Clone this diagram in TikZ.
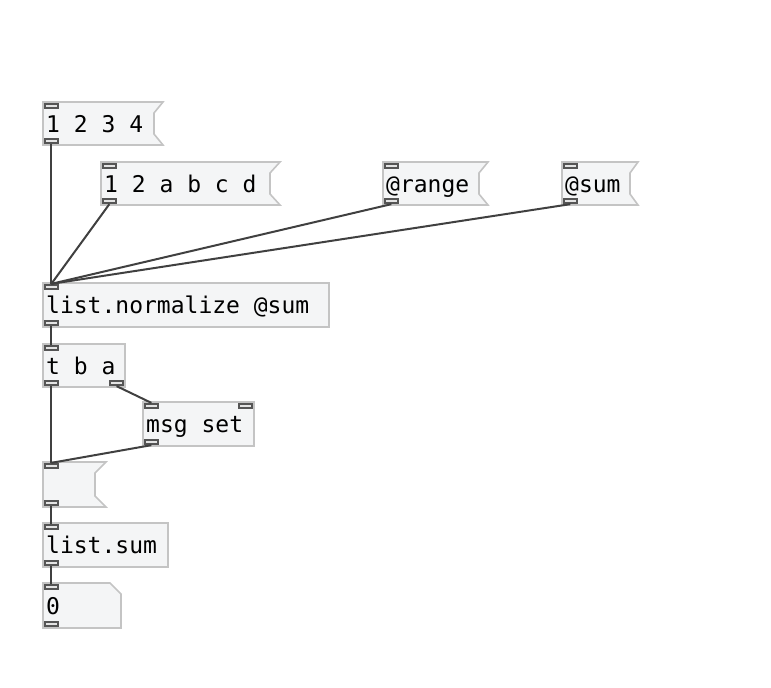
\documentclass[tikz,border=0pt]{standalone}
\usepackage{fontspec}
\newfontfamily\pdfont{DejaVu Sans Mono}
\definecolor{boxfill}{HTML}{F4F5F6}
\definecolor{boxline}{HTML}{C4C4C4}
\definecolor{portline}{HTML}{555555}
\definecolor{portfill}{HTML}{E4E4E4}
\definecolor{wire}{HTML}{404040}
\tikzset{
  boxshape/.style={draw=boxline, fill=boxfill, line width=1.6pt},
  port/.style={draw=portline, fill=portfill, line width=1.7pt, rectangle, inner sep=0pt, minimum width=13.3pt, minimum height=4.3pt},
  lbl/.style={font=\pdfont\fontsize{23}{25}\selectfont, inner sep=0pt, anchor=base west, text=black},
  conn/.style={draw=wire, line width=2pt},
}
\newcommand{\flagbox}[5]{% left top right bottom notch
  \path[boxshape] (#1,#2) -- (#3,#2) -- (#5,#2+11) -- (#5,#4-11) -- (#3,#4) -- (#1,#4) -- cycle;}
\begin{document}
\begin{tikzpicture}[x=1pt,y=-1pt]
\useasboundingbox (0,0) rectangle (771,688);
% message boxes
\flagbox{43}{102}{163}{145}{154}
\flagbox{101}{162}{280}{205}{270}
\flagbox{383}{162}{488}{205}{479}
\flagbox{562}{162}{638}{205}{630}
\flagbox{43}{462}{106}{507}{95}
% object boxes
\path[boxshape] (43,283) rectangle (329,327);
\path[boxshape] (43,344) rectangle (125,387);
\path[boxshape] (143,402) rectangle (254,446);
\path[boxshape] (43,523) rectangle (168,567);
% number box
\path[boxshape] (43,583) -- (110,583) -- (121,594) -- (121,628) -- (43,628) -- cycle;
% labels
\node[lbl] (t1) at (46,132) {1 2 3 4};
\node[lbl] (t2) at (104,192) {1 2 a b c d};
\node[lbl] (t3) at (386,192) {@range};
\node[lbl] (t4) at (565,192) {@sum};
\node[lbl] (t5) at (46,313) {list.normalize @sum};
\node[lbl] (t6) at (46,374) {t b a};
\node[lbl] (t7) at (146,432) {msg set};
\node[lbl] (t8) at (46,553) {list.sum};
\node[lbl] (t9) at (46,614) {0};
% ports
\node[port, anchor=north west] (m1i) at (43.85,102.85) {};
\node[port, anchor=south west] (m1o) at (43.85,144.15) {};
\node[port, anchor=north west] (m2i) at (101.85,162.85) {};
\node[port, anchor=south west] (m2o) at (101.85,204.15) {};
\node[port, anchor=north west] (m3i) at (383.85,162.85) {};
\node[port, anchor=south west] (m3o) at (383.85,204.15) {};
\node[port, anchor=north west] (m4i) at (562.85,162.85) {};
\node[port, anchor=south west] (m4o) at (562.85,204.15) {};
\node[port, anchor=north west] (o1i) at (43.85,283.85) {};
\node[port, anchor=south west] (o1o) at (43.85,326.15) {};
\node[port, anchor=north west] (o2i) at (43.85,344.85) {};
\node[port, anchor=south west] (o2o) at (43.85,386.15) {};
\node[port, anchor=south east] (o2r) at (124.15,386.15) {};
\node[port, anchor=north west] (o3i) at (143.85,402.85) {};
\node[port, anchor=north east] (o3r) at (253.15,402.85) {};
\node[port, anchor=south west] (o3o) at (143.85,445.15) {};
\node[port, anchor=north west] (m5i) at (43.85,462.85) {};
\node[port, anchor=south west] (m5o) at (43.85,506.15) {};
\node[port, anchor=north west] (o4i) at (43.85,523.85) {};
\node[port, anchor=south west] (o4o) at (43.85,566.15) {};
\node[port, anchor=north west] (n1i) at (43.85,583.85) {};
\node[port, anchor=south west] (n1o) at (43.85,627.15) {};
% connections
\draw[conn] (m1o.south) -- (o1i.north);
\draw[conn] (m2o.south) -- (o1i.north);
\draw[conn] (m3o.south) -- (o1i.north);
\draw[conn] (m4o.south) -- (o1i.north);
\draw[conn] (o1o.south) -- (o2i.north);
\draw[conn] (o2o.south) -- (m5i.north);
\draw[conn] (o2r.south) -- (o3i.north);
\draw[conn] (o3o.south) -- (m5i.north);
\draw[conn] (m5o.south) -- (o4i.north);
\draw[conn] (o4o.south) -- (n1i.north);
\end{tikzpicture}
\end{document}
